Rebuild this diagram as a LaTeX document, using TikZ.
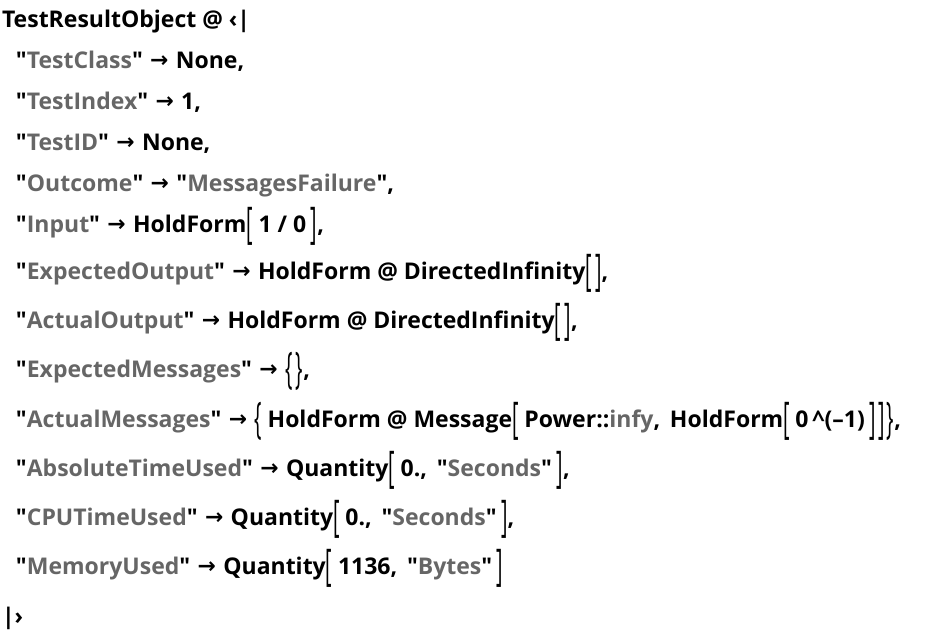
\documentclass[tikz,border=0pt]{standalone}
\usepackage{fontspec}
\usepackage{graphicx}
\newfontfamily\mf{Open Sans}
\newfontfamily\brfont{Open Sans}
\newfontfamily\arfont{DejaVu Sans}
\definecolor{strgray}{HTML}{666666}
\newcommand\gr[1]{\textcolor{strgray}{#1}}
\newcommand\q{\char"22\relax}
\newcommand\tb[1]{\raisebox{-0.27em}{\scalebox{0.85}[1.9]{\mdseries\brfont #1}}}
\newcommand\LB[1]{\tb{#1}\hspace{0.25em}}
\newcommand\RB[1]{\hspace{0.2em}\tb{#1}}
\newcommand\ar{\hspace{0.32em}\raisebox{0.02em}{\scalebox{0.95}{\arfont →}}\hspace{0.32em}}
\begin{document}
\begin{tikzpicture}[x=1pt,y=-1pt,
  txt/.style={anchor=base west,inner sep=0pt,outer sep=0pt,font=\fontsize{23}{27}\mf\bfseries}]
\useasboundingbox (0,0) rectangle (932,632);
\node[txt] (l1) at (2,27) {TestResultObject @ ‹|};
\node[txt] (l2) at (16,68) {\q\gr{TestClass}\q\ar None,};
\node[txt] (l3) at (16,109) {\q\gr{TestIndex}\q\ar 1,};
\node[txt] (l4) at (16,150) {\q\gr{TestID}\q\ar None,};
\node[txt] (l5) at (16,191) {\q\gr{Outcome}\q\ar \q\gr{MessagesFailure}\q,};
\node[txt] (l6) at (16,232) {\q\gr{Input}\q\ar HoldForm\LB{[}1 / 0\RB{]},};
\node[txt] (l7) at (16,279) {\q\gr{ExpectedOutput}\q\ar HoldForm @ DirectedInfinity\tb{[}\hspace{0.15em}\tb{]},};
\node[txt] (l8) at (16,328) {\q\gr{ActualOutput}\q\ar HoldForm @ DirectedInfinity\tb{[}\hspace{0.15em}\tb{]},};
\node[txt] (l9) at (16,377) {\q\gr{ExpectedMessages}\q\ar\tb{\{}\hspace{0.15em}\tb{\}},};
\node[txt] (l10) at (16,427) {\q\gr{ActualMessages}\q\ar\LB{\{}HoldForm @ Message\LB{[}Power::\gr{infy}, \,HoldForm\LB{[}0\,\textasciicircum(–1)\RB{]}\hspace{0.1em}\tb{]}\hspace{0.1em}\tb{\}},};
\node[txt] (l11) at (16,476) {\q\gr{AbsoluteTimeUsed}\q\ar Quantity\LB{[}0., \,\q\gr{Seconds}\q\RB{]},};
\node[txt] (l12) at (16,525) {\q\gr{CPUTimeUsed}\q\ar Quantity\LB{[}0., \,\q\gr{Seconds}\q\RB{]},};
\node[txt] (l13) at (16,574) {\q\gr{MemoryUsed}\q\ar Quantity\LB{[}1136, \,\q\gr{Bytes}\q\RB{]}};
\node[txt] (l14) at (2,624) {|›};
\end{tikzpicture}
\end{document}
